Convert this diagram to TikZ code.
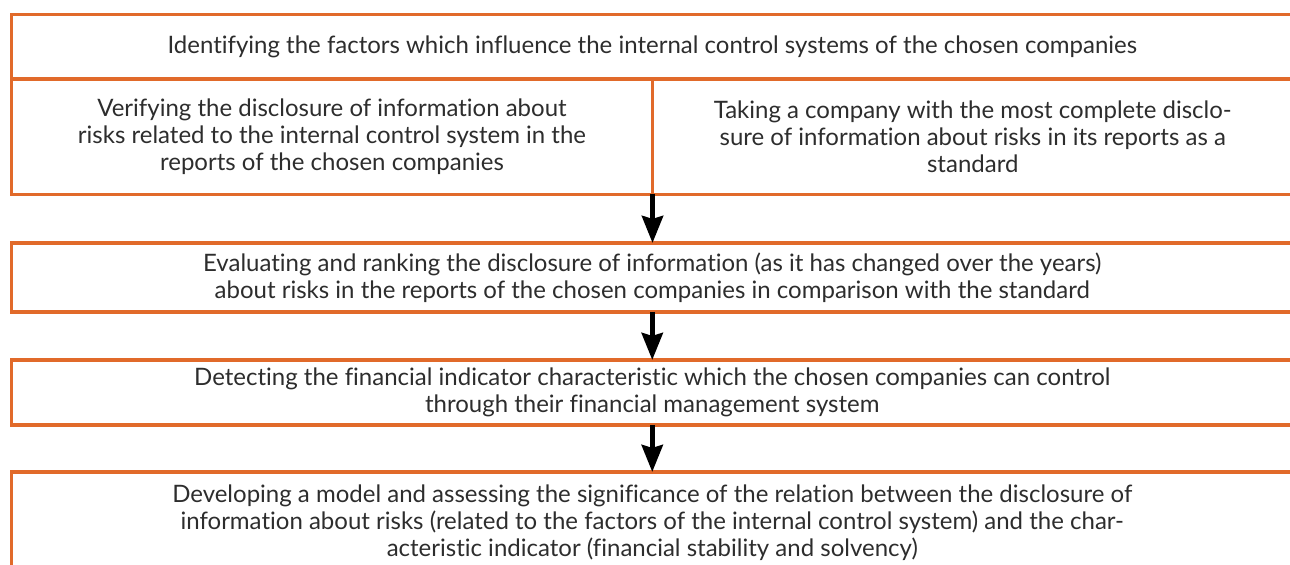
\documentclass[tikz,border=0pt]{standalone}
\usepackage{fontspec}
\setmainfont{Lato}[Ligatures=NoCommon]
\usetikzlibrary{arrows.meta}
\definecolor{boxorange}{RGB}{225,106,42}
\definecolor{textgray}{RGB}{45,45,45}
\begin{document}
\begin{tikzpicture}[x=0.5pt,y=-0.5pt,
box/.style={draw=boxorange, line width=1.6pt, outer sep=0pt, inner sep=0pt,
  align=center, text=textgray, font=\fontsize{12}{13.6}\selectfont},
step arrow/.style={line width=2.6pt, -{Stealth[length=13.5pt,width=10.5pt,inset=1.5pt]}}]
\useasboundingbox (0,0) rectangle (1290,565);
\clip (0,0) rectangle (1290,565);
\node[box, minimum width=640.75pt, minimum height=32.25pt] (ident) at (652.25,46.75)
  {Identifying the factors which influence the internal control systems of the chosen companies};
\node[box, minimum width=320.5pt, minimum height=57.75pt] (verify) at (332,136.75)
  {Verifying the disclosure of information about\\risks related to the internal control system in the\\reports of the chosen companies};
\node[box, minimum width=320.25pt, minimum height=57.75pt] (standard) at (972.75,136.75)
  {Taking a company with the most complete disclo-\\sure of information about risks in its reports as a\\standard};
\node[box, minimum width=640.75pt, minimum height=34.5pt] (evaluate) at (652.25,277.5)
  {Evaluating and ranking the disclosure of information (as it has changed over the years)\\about risks in the reports of the chosen companies in comparison with the standard};
\node[box, minimum width=640.75pt, minimum height=32.5pt] (detect) at (652.25,392.5)
  {Detecting the financial indicator characteristic which the chosen companies can control\\through their financial management system};
\node[box, minimum width=640.75pt, minimum height=50.5pt] (develop) at (652.25,522.5)
  {Developing a model and assessing the significance of the relation between the disclosure of\\information about risks (related to the factors of the internal control system) and the char-\\acteristic indicator (financial stability and solvency)};
\draw[step arrow] (verify.south east) -- (verify.south east |- evaluate.north);
\draw[step arrow] (evaluate.south) -- (detect.north);
\draw[step arrow] (detect.south) -- (develop.north);
\end{tikzpicture}
\end{document}
